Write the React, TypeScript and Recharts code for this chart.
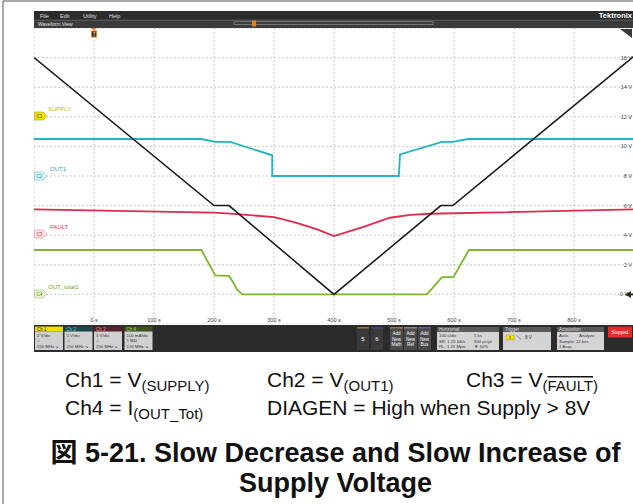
import { LineChart, Line, XAxis, YAxis, CartesianGrid } from "recharts";

// time axis (s) and display scale (V, right-hand labels)
const timeTicks = [-100, 0, 100, 200, 300, 400, 500, 600, 700, 800, 900];
const timeLabels = ["", "0 s", "100 s", "200 s", "300 s", "400 s", "500 s", "600 s", "700 s", "800 s", ""];
const voltTicks = [-2, 0, 2, 4, 6, 8, 10, 12, 14, 16, 18];
const voltLabels = ["", "0 V", "2 V", "4 V", "6 V", "8 V", "10 V", "12 V", "14 V", "16 V", ""];

// traces
const supplyT = [-100, 200, 225, 400, 578, 598, 900];
const supplyV = [16.0, 6.0, 6.0, 0.0, 6.0, 6.0, 16.1];

const out1T = [-100, 179, 202, 227, 297, 297, 508, 510, 580, 598, 623, 900];
const out1V = [10.5, 10.5, 10.3, 10.3, 9.4, 8.0, 8.0, 9.46, 10.3, 10.3, 10.5, 10.5];

const faultT = [-100, 200, 227, 300, 335, 372, 400, 448, 493, 527, 560, 900];
const faultV = [5.75, 5.52, 5.46, 5.22, 4.86, 4.39, 3.94, 4.55, 5.18, 5.38, 5.45, 5.74];

const totalT = [-100, 179, 202, 225, 232, 238, 247, 555, 580, 599, 625, 900];
const totalV = [3.0, 3.0, 1.28, 1.25, 0.8, 0.35, 0.0, 0.0, 1.17, 1.17, 3.0, 3.0];

const zip = (t: number[], v: number[]) => t.map((x, i) => ({ t: x, v: v[i] }));
const supply = zip(supplyT, supplyV);
const out1 = zip(out1T, out1V);
const fault = zip(faultT, faultV);
const total = zip(totalT, totalV);

const ui = "'Liberation Sans', Arial, sans-serif";

const TimeTick = (props: any) => {
  const label = timeLabels[timeTicks.indexOf(props.payload.value)];
  if (!label) return <g />;
  return (
    <text x={props.x} y={294} textAnchor="middle" fontSize={5.5} fill="#444" fontFamily={ui}>
      {label}
    </text>
  );
};

const VoltTick = (props: any) => {
  const label = voltLabels[voltTicks.indexOf(props.payload.value)];
  if (!label) return <g />;
  const y = props.y;
  if (props.payload.value === 0) {
    return (
      <g>
        <text x={594} y={y + 2} textAnchor="end" fontSize={5.5} fill="#444" fontFamily={ui}>{label}</text>
        <polygon points={`${591},${y} ${597},${y - 3.5} ${597},${y + 3.5}`} fill="#2b2b12" />
        <rect x={596} y={y - 1} width={3} height={2} fill="#2b2b12" />
      </g>
    );
  }
  return (
    <text x={598} y={y + 2} textAnchor="end" fontSize={5.5} fill="#444" fontFamily={ui}>
      {label}
    </text>
  );
};

const flags = [
  { y: 116, id: "C1", fill: "#f2e600", stroke: "#a89c00", text: "#333", name: "SUPPLY", nx: 48, ny: 111, nc: "#c9b900" },
  { y: 176, id: "C2", fill: "#d6f3f5", stroke: "#5cc8d0", text: "#2a8a90", name: "OUT1", nx: 50, ny: 170.5, nc: "#20a8b2" },
  { y: 234, id: "C3", fill: "#fde2e6", stroke: "#e88898", text: "#b03048", name: "FAULT", nx: 50, ny: 229, nc: "#d93350" },
  { y: 294, id: "C4", fill: "#e6f2d6", stroke: "#9acd60", text: "#5a8a20", name: "OUT_total1", nx: 48, ny: 288.5, nc: "#6bab22" },
];

const chans = [
  { x: 35, label: "Ch 1", hdr: "#efe000", ht: "#222", lines: ["2 V/div", "⎍", "250 MHz ↘"] },
  { x: 64.5, label: "Ch 2", hdr: "#1f4a4c", ht: "#5fd0d8", lines: ["5 V/div", "⎍", "250 MHz ↘"] },
  { x: 94, label: "Ch 3", hdr: "#5a2230", ht: "#ff8898", lines: ["5 V/div", "⎍", "250 MHz ↘"] },
  { x: 124.5, label: "Ch 4", hdr: "#3f5320", ht: "#a8d868", lines: ["100 mA/div", "1 MΩ", "120 MHz ↘"] },
];

const panels = [
  { x: 437, w: 62, title: "Horizontal", rows: [["100 s/div", "1 ks"], ["SR: 1.25 kS/s", "800 µs/pt"], ["RL: 1.25 Mpts", "▼ 10%"]] },
  { x: 557, w: 47, title: "Acquisition", rows: [["Auto,", "Analyze"], ["Sample: 12 bits", ""], ["1 Acqs", ""]] },
];

export default function App() {
  return (
    <div style={{ position: "absolute", left: 0, top: 0, width: 633, height: 504, overflow: "hidden", background: "#fff" }}>
      <div style={{ position: "absolute", left: 34, top: 28, width: 600, height: 296 }}>
        <LineChart width={600} height={296} margin={{ top: 0, right: 0, bottom: 0, left: 0 }}>
          <CartesianGrid stroke="#bcbcbc" strokeDasharray="2 2" strokeWidth={0.8} />
          <XAxis
            type="number"
            dataKey="t"
            domain={[-100, 900]}
            ticks={timeTicks}
            interval={0}
            mirror
            axisLine={false}
            tickLine={false}
            tick={TimeTick}
            allowDataOverflow
          />
          <YAxis
            type="number"
            orientation="right"
            domain={[-2, 18]}
            ticks={voltTicks}
            interval={0}
            mirror
            axisLine={false}
            tickLine={false}
            tick={VoltTick}
            allowDataOverflow
          />
          <Line data={out1} dataKey="v" type="linear" stroke="#22b4be" strokeWidth={1.8} dot={false} isAnimationActive={false} />
          <Line data={fault} dataKey="v" type="linear" stroke="#e02a4c" strokeWidth={1.8} dot={false} isAnimationActive={false} />
          <Line data={total} dataKey="v" type="linear" stroke="#7bb82a" strokeWidth={1.8} dot={false} isAnimationActive={false} />
          <Line data={supply} dataKey="v" type="linear" stroke="#151515" strokeWidth={1.5} dot={false} isAnimationActive={false} />
        </LineChart>
      </div>

      <svg width={633} height={504} style={{ position: "absolute", left: 0, top: 0, pointerEvents: "none" }} fontFamily={ui}>
        {/* figure frame */}
        <line x1={3} y1={1} x2={3} y2={504} stroke="#555" strokeWidth={1} />
        <line x1={3} y1={1} x2={633} y2={1} stroke="#555" strokeWidth={1} />

        {/* menu bar */}
        <rect x={34} y={11} width={599} height={9} fill="#2c2c2c" />
        <text x={40} y={17.5} fontSize={5.5} fill="#e0e0e0">File</text>
        <text x={60} y={17.5} fontSize={5.5} fill="#e0e0e0">Edit</text>
        <text x={83} y={17.5} fontSize={5.5} fill="#e0e0e0">Utility</text>
        <text x={109} y={17.5} fontSize={5.5} fill="#e0e0e0">Help</text>
        <text x={632} y={18} fontSize={7.5} fontWeight="bold" fill="#fff" textAnchor="end">Tektronix</text>
        <rect x={34} y={20} width={599} height={8} fill="#3b3b3b" />
        <line x1={34} y1={20.2} x2={633} y2={20.2} stroke="#8a8a8a" strokeWidth={0.5} />
        <text x={38} y={26} fontSize={5} fill="#e6e6e6">Waveform View</text>
        <rect x={234} y={21.8} width={199} height={2.8} fill="none" stroke="#9a9a9a" strokeWidth={0.6} />
        <rect x={252} y={20.5} width={4} height={6} fill="#e08020" />

        {/* trigger marker */}
        <polygon points="91,28 97,28 94,30.5" fill="#e8801a" />
        <rect x={91} y={30.5} width={6} height={7} fill="#e8801a" />
        <rect x={92} y={31.5} width={4} height={5} fill="#2a2a2a" />
        <text x={94} y={35.6} fontSize={4.5} fill="#f0c080" textAnchor="middle" fontWeight="bold">T</text>
        <polygon points="620,29 632,29 632,38" fill="#3a3a3a" />

        {/* channel flags */}
        {flags.map((f) => (
          <g key={f.id}>
            <polygon
              points={`34.5,${f.y - 4} 43,${f.y - 4} 47,${f.y} 43,${f.y + 4} 34.5,${f.y + 4}`}
              fill={f.fill}
              stroke={f.stroke}
              strokeWidth={0.6}
            />
            <text x={39.5} y={f.y + 1.7} fontSize={4.5} fill={f.text} textAnchor="middle">{f.id}</text>
            <text x={f.nx} y={f.ny} fontSize={6} fill={f.nc}>{f.name}</text>
          </g>
        ))}

        {/* bottom status bar */}
        <rect x={34} y={325} width={599} height={27} fill="#2b2b2b" />
        {chans.map((c) => (
          <g key={c.label}>
            <rect x={c.x} y={326.5} width={28} height={5} fill={c.hdr} />
            <text x={c.x + 2} y={330.5} fontSize={4.5} fill={c.ht}>{c.label}</text>
            <rect x={c.x} y={331.5} width={28} height={18.5} fill="#d0d0d0" />
            {c.lines.map((l, i) => (
              <text key={i} x={c.x + 2} y={336.8 + i * 5.5} fontSize={4.3} fill="#333">{l}</text>
            ))}
          </g>
        ))}
        <rect x={357} y={327} width={12} height={23} fill="#3a3a3a" />
        <rect x={357} y={327} width={12} height={1.5} fill="#9a7040" />
        <text x={363} y={341} fontSize={6} fill="#fff" textAnchor="middle">5</text>
        <rect x={371} y={327} width={12} height={23} fill="#3a3a3a" />
        <rect x={371} y={327} width={12} height={1.5} fill="#404090" />
        <text x={377} y={341} fontSize={6} fill="#fff" textAnchor="middle">6</text>
        {[
          { x: 390, c: "#9a7040", n: "Math" },
          { x: 404, c: "#888", n: "Ref" },
          { x: 418, c: "#7050a0", n: "Bus" },
        ].map((b) => (
          <g key={b.n}>
            <rect x={b.x} y={327} width={13} height={23} fill="#4a4a4a" />
            <rect x={b.x} y={327} width={13} height={1.5} fill={b.c} />
            <text x={b.x + 6.5} y={335} fontSize={4.5} fill="#fff" textAnchor="middle">Add</text>
            <text x={b.x + 6.5} y={340.5} fontSize={4.5} fill="#fff" textAnchor="middle">New</text>
            <text x={b.x + 6.5} y={346} fontSize={4.5} fill="#fff" textAnchor="middle">{b.n}</text>
          </g>
        ))}
        {panels.map((p) => (
          <g key={p.title}>
            <rect x={p.x} y={327} width={p.w} height={5} fill="#5a5a5a" />
            <text x={p.x + 2} y={331} fontSize={4.5} fill="#ddd">{p.title}</text>
            <rect x={p.x} y={332} width={p.w} height={18} fill="#d4d4d4" />
            {p.rows.map((r, i) => (
              <g key={i}>
                <text x={p.x + 2} y={337 + i * 5.5} fontSize={4.3} fill="#333">{r[0]}</text>
                <text x={p.x + (p.w > 50 ? 37 : 22)} y={337 + i * 5.5} fontSize={4.3} fill="#333">{r[1]}</text>
              </g>
            ))}
          </g>
        ))}
        <rect x={503} y={327} width={48} height={5} fill="#5a5a5a" />
        <text x={505} y={331} fontSize={4.5} fill="#ddd">Trigger</text>
        <rect x={503} y={332} width={48} height={18} fill="#d4d4d4" />
        <rect x={506} y={335} width={8} height={5} fill="#efe000" stroke="#a89c00" strokeWidth={0.4} />
        <text x={510} y={339} fontSize={4.3} fill="#222" textAnchor="middle">1</text>
        <line x1={517} y1={335.5} x2={521} y2={339.5} stroke="#333" strokeWidth={0.5} />
        <text x={525} y={339} fontSize={4.5} fill="#333">8 V</text>
        <rect x={608} y={326.5} width={24} height={11} fill="#e42a2a" />
        <text x={620} y={333.5} fontSize={4.5} fill="#fff" textAnchor="middle">Stopped</text>

        {/* caption */}
        <g fontFamily="'Liberation Sans', Arial, 'Noto Sans CJK JP', sans-serif" fill="#111">
          <text x={65} y={387} fontSize={21}>
            Ch1 = V<tspan fontSize={15} dy={4}>(SUPPLY)</tspan>
          </text>
          <text x={267} y={387} fontSize={21}>
            Ch2 = V<tspan fontSize={15} dy={4}>(OUT1)</tspan>
          </text>
          <text x={466} y={387} fontSize={21}>
            Ch3 = V<tspan fontSize={15} dy={4}>(</tspan>
            <tspan fontSize={15} style={{ textDecoration: "overline" }}>FAULT</tspan>
            <tspan fontSize={15}>)</tspan>
          </text>
          <text x={65} y={415} fontSize={21}>
            Ch4 = I<tspan fontSize={15} dy={4}>(OUT_Tot)</tspan>
          </text>
          <text x={267} y={415} fontSize={21}>DIAGEN = High when Supply &gt; 8V</text>
          <text x={335.5} y={462} fontSize={27} fontWeight="bold" textAnchor="middle">
            図 5-21. Slow Decrease and Slow Increase of
          </text>
          <text x={335.5} y={492} fontSize={27} fontWeight="bold" textAnchor="middle">
            Supply Voltage
          </text>
        </g>
      </svg>
    </div>
  );
}
